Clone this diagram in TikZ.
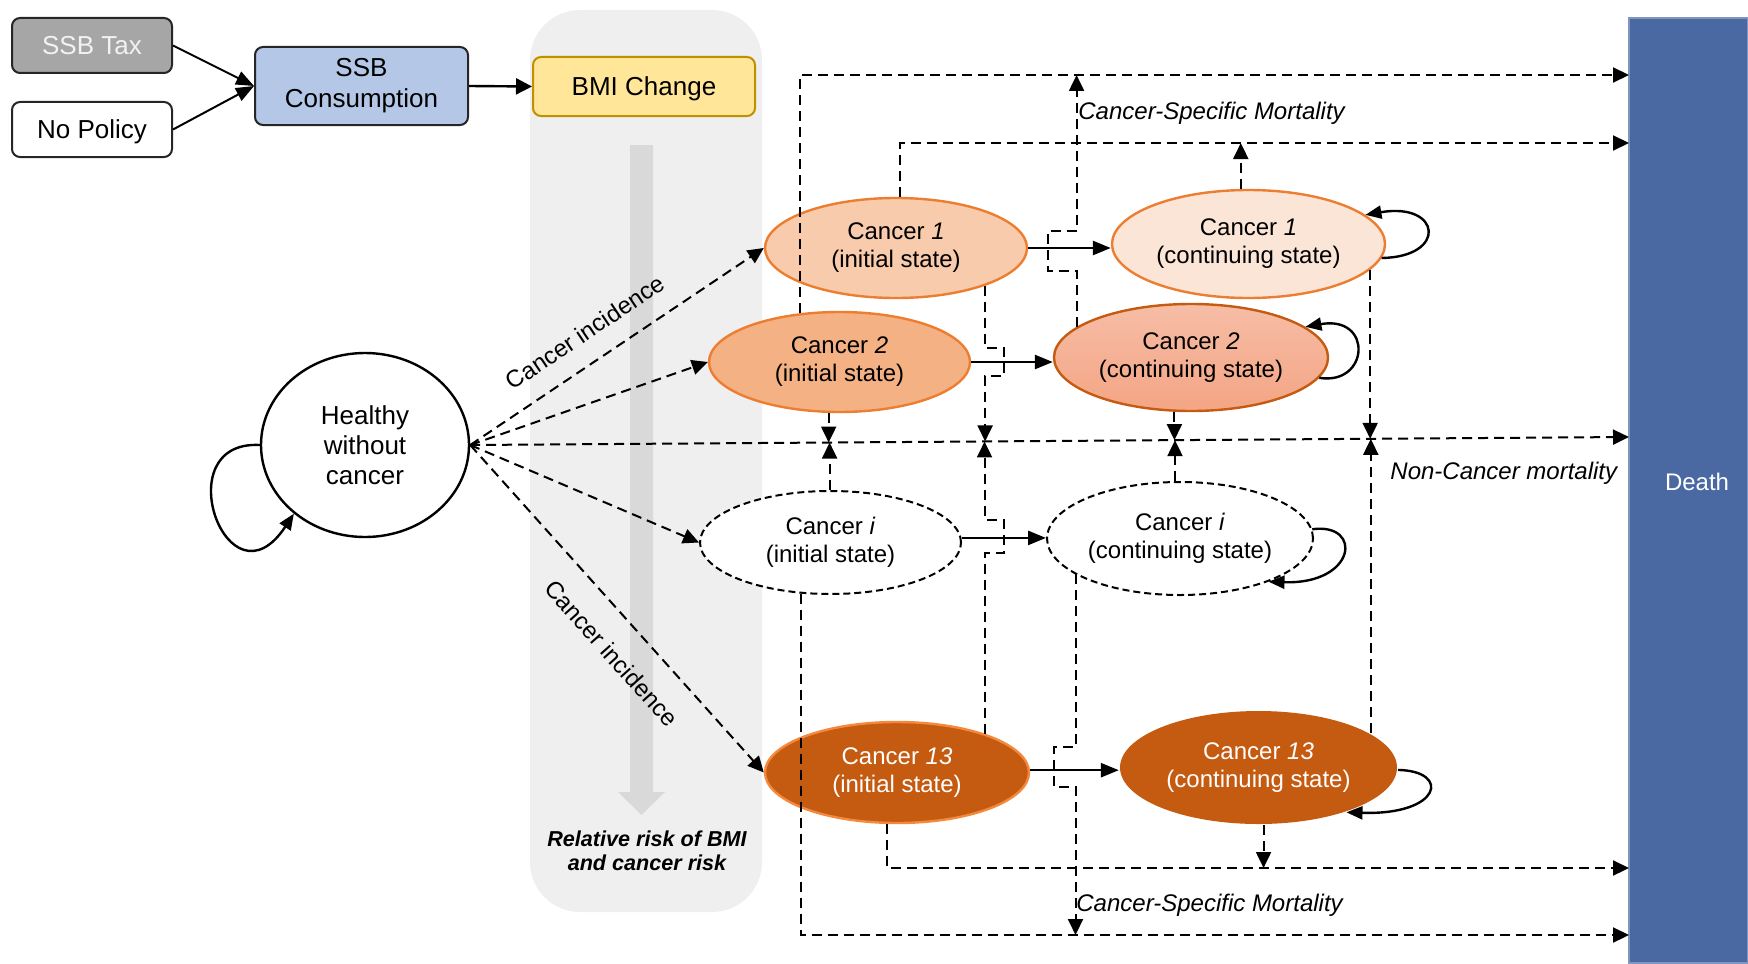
\documentclass[tikz,border=0pt]{standalone}
\usepackage{fontspec}
\setmainfont{Liberation Sans}
\usetikzlibrary{shapes.geometric,arrows.meta,calc}
\definecolor{panelgray}{HTML}{EFEFEF}
\definecolor{arrowgray}{HTML}{D9D9D9}
\definecolor{taxgray}{HTML}{A6A6A6}
\definecolor{taxtext}{HTML}{F2F2F2}
\definecolor{consblue}{HTML}{B4C7E7}
\definecolor{bmiyellow}{HTML}{FFE699}
\definecolor{bmiborder}{HTML}{BF9000}
\definecolor{orangeb}{HTML}{ED7D31}
\definecolor{cOneI}{HTML}{F8CBAD}
\definecolor{cOneC}{HTML}{FBE5D6}
\definecolor{cTwoI}{HTML}{F4B183}
\definecolor{cTwoCtop}{HTML}{F6BDA6}
\definecolor{cTwoCbot}{HTML}{F4A584}
\definecolor{cTwoCb}{HTML}{C55A11}
\definecolor{cThirteen}{HTML}{C55A11}
\definecolor{cThirteenB}{HTML}{F4883C}
\definecolor{deathblue}{HTML}{4A69A3}
\begin{document}
\begin{tikzpicture}[x=0.5pt,y=-0.5pt,
  font=\fontsize{12}{14}\selectfont,
  tipstyle/.style={-{Triangle[length=8pt,width=7.5pt]}},
  mort/.style={line width=1pt, dash pattern=on 5pt off 3pt, tipstyle},
  solidarrow/.style={line width=1.3pt, -{Triangle[length=9pt,width=7pt]}},
  selfloop/.style={line width=1.2pt, -{Triangle[length=8pt,width=6.5pt]}},
  topbox/.style={draw=black!85, line width=1pt, rounded corners=4pt, align=center, inner sep=0pt, font=\fontsize{13}{15.5}\selectfont},
  cell/.style={ellipse, inner sep=0pt, align=center, line width=1.2pt},
  dashcell/.style={cell, draw=black, fill=white, line width=1pt, dash pattern=on 3.5pt off 2pt},
  lbl/.style={font=\fontsize{12}{14}\selectfont\itshape, inner sep=0pt, anchor=west},
  inclbl/.style={font=\fontsize{12}{14}\selectfont, sloped}
]
\useasboundingbox (0,0) rectangle (1748,963);

% grey panel and big arrow
\node[fill=panelgray, rounded corners=25pt, minimum width=116pt, minimum height=451pt, inner sep=0pt] (panel) at (646,461) {};
\fill[arrowgray] (630,145) -- (653,145) -- (653,792) -- (665,792) -- (641.5,815) -- (618,792) -- (630,792) -- cycle;
\node[font=\fontsize{10.8}{12}\selectfont\bfseries\itshape, align=center, inner sep=0pt] (rr) at (647,851) {Relative risk of BMI\\and cancer risk};

% top boxes
\node[topbox, fill=taxgray, text=taxtext, minimum width=80pt, minimum height=27.5pt] (tax) at (92,45.5) {SSB Tax};
\node[topbox, fill=white, text depth=0pt, minimum width=80pt, minimum height=27.5pt] (nopol) at (92,129.5) {No Policy};
\node[topbox, fill=consblue, minimum width=106.5pt, minimum height=39pt] (cons) at (361.5,86) {SSB\\Consumption};
\node[topbox, fill=bmiyellow, draw=bmiborder, text depth=0pt, minimum width=111pt, minimum height=29.5pt] (bmi) at (644,86.5) {BMI Change};

% healthy
\node[ellipse, draw=black, line width=1.2pt, fill=white, minimum width=104pt, minimum height=92pt, inner sep=0pt, align=center, font=\fontsize{13}{15}\selectfont] (healthy) at (365,445) {Healthy\\without\\cancer};

% cancer states
\node[cell, draw=orangeb, fill=cOneI, minimum width=131pt, minimum height=50pt] (ci1) at (896,248) {Cancer \textit{1}\\(initial state)};
\node[cell, draw=orangeb, fill=cOneC, minimum width=136.5pt, minimum height=54pt] (cc1) at (1248.5,244) {Cancer \textit{1}\\(continuing state)};
\node[cell, draw=orangeb, fill=cTwoI, minimum width=130.5pt, minimum height=50pt] (ci2) at (839.5,362) {Cancer \textit{2}\\(initial state)};
\node[cell, draw=cTwoCb, top color=cTwoCtop, bottom color=cTwoCbot, minimum width=137pt, minimum height=53.5pt] (cc2) at (1191,357.5) {Cancer \textit{2}\\(continuing state)};
\node[dashcell, minimum width=130.5pt, minimum height=51.5pt] (cii) at (830.5,542.5) {Cancer \textit{i}\\(initial state)};
\node[dashcell, minimum width=133pt, minimum height=56.5pt] (cci) at (1180,538.5) {Cancer \textit{i}\\(continuing state)};
\node[cell, draw=cThirteenB, fill=cThirteen, text=white, minimum width=132pt, minimum height=50.5pt] (ci13) at (897,772.5) {Cancer \textit{13}\\(initial state)};
\node[cell, fill=cThirteen, text=white, minimum width=138.5pt, minimum height=56.5pt] (cc13) at (1258.5,767.5) {Cancer \textit{13}\\(continuing state)};

% death
\node[fill=deathblue, draw=deathblue!70!white, line width=0.6pt, minimum width=59.5pt, minimum height=472.5pt, inner sep=0pt] (death) at (1688.5,490.5) {};
\node[text=white, inner sep=0pt] (deathlbl) at (1697,482) {Death};

% endpoints at Death
\coordinate (dA) at (1629,75);
\coordinate (dB) at (1629,143);
\coordinate (dN) at (1629,437);
\coordinate (dC) at (1629,868);
\coordinate (dD) at (1629,935);
\coordinate (n1) at ($(healthy.east)!0.3103!(dN)$);
\coordinate (n2) at ($(healthy.east)!0.4431!(dN)$);
\coordinate (n3) at ($(healthy.east)!0.6086!(dN)$);
\coordinate (n4) at ($(healthy.east)!0.775!(dN)$);

% policy arrows
\draw[line width=1pt, -{Triangle[length=9pt,width=7pt]}] (tax.east) -- (cons.west);
\draw[line width=1pt, -{Triangle[length=9pt,width=7pt]}] (nopol.east) -- (cons.west);
\draw[line width=1.2pt, -{Triangle[length=8pt,width=8pt]}] (cons.east) -- (bmi.west);

% incidence
\draw[mort] (healthy.east) -- node[inclbl, pos=0.447, above, inner sep=10pt] (inc1) {Cancer incidence} (ci1.west);
\draw[mort] (healthy.east) -- (ci2.west);
\draw[mort] (healthy.east) -- (cii.west);
\draw[mort] (healthy.east) -- node[inclbl, pos=0.567, below, inner sep=12pt] (inc2) {Cancer incidence} (ci13.west);

% non-cancer mortality
\draw[mort] (healthy.east) -- (dN);
\draw[mort] (ci2.258.1) -- (ci2.258.1 |- n1);
\draw[mort] (cii.91.7) -- (cii.91.7 |- n1);
\draw[mort] (ci1.-23.3) -- ++(0,62) -- ++(19,0) -- ++(0,28) -- ++(-19,0) -- (ci1.-23.3 |- n2);
\draw[mort] (ci13.24) -- ++(0,-181) -- ++(19,0) -- ++(0,-33) -- ++(-19,0) -- (ci13.24 |- n2);
\draw[mort] (cc2.253.2) -- (cc2.253.2 |- n3);
\draw[mort] (cci.95.1) -- (cci.95.1 |- n3);
\draw[mort] (cc1.-12.3) -- (cc1.-12.3 |- n4);
\draw[mort] (cc13.17.5) -- (cc13.17.5 |- n4);

% cancer-specific mortality, top
\draw[mort] (ci2.129.7) |- (dA);
\draw[mort] (ci1.85.4) |- (dB);
\draw[mort] (cc1.98) -- (cc1.98 |- dB);
\draw[mort] (cc2.165.8) |- ++(-29,-56) -- ++(0,-40) -- ++(29,0) -- (cc2.165.8 |- dA);

% cancer-specific mortality, bottom
\draw[mort] (ci13.259.9) |- (dC);
\draw[mort] (cc13.-85.45) -- (cc13.-85.45 |- dC);
\draw[mort] (cii.-120.4) |- (dD);
\draw[mort] (cci.-161.7) -- ++(0,173) -- ++(-22,0) -- ++(0,40) -- ++(22,0) -- (cci.-161.7 |- dD);

% transitions
\draw[solidarrow] (ci1.east) -- (ci1.east -| cc1.west);
\draw[solidarrow] (ci2.east) -- (ci2.east -| cc2.west);
\draw[solidarrow] (cii.2.5) -- (cii.2.5 -| cci.west);
\draw[solidarrow] (ci13.1.5) -- (ci13.1.5 -| cc13.west);

% self loops
\draw[selfloop] (healthy.west) .. controls +(-95,-5) and +(-66,100) .. (healthy.224.2);
\draw[selfloop] (cc1.-6.5) .. controls +(66,-1) and +(76,-13) .. (cc1.14.9);
\draw[selfloop] (cc2.-9) .. controls +(50,8) and +(68,-12) .. (cc2.15);
\draw[selfloop] (cci.4) .. controls +(51,-7) and +(88,3) .. (cci.-26);
\draw[selfloop] (cc13.-1.5) .. controls +(53,1) and +(95,3) .. (cc13.-27.4);

% labels
\node[lbl] (csm1) at (1078,113) {Cancer-Specific Mortality};
\node[lbl] (ncm) at (1390,473) {Non-Cancer mortality};
\node[lbl] (csm2) at (1076,905) {Cancer-Specific Mortality};
\end{tikzpicture}
\end{document}
